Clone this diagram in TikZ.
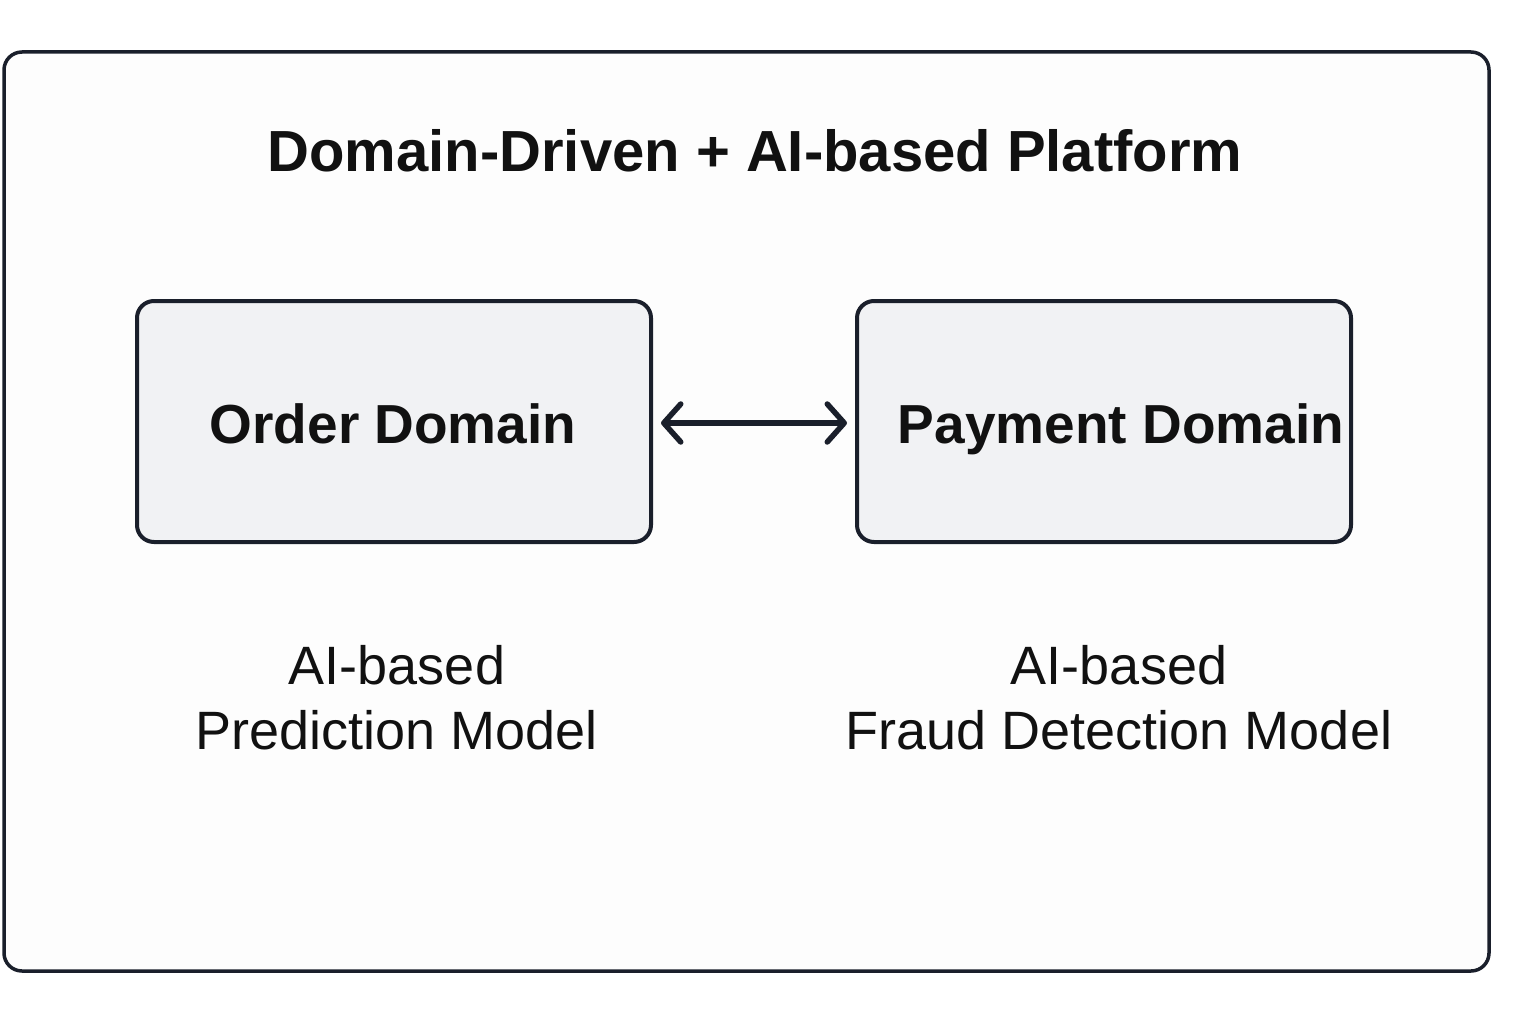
\documentclass[tikz,border=0pt]{standalone}
\usepackage{fontspec}
\setmainfont{Liberation Sans}
\usetikzlibrary{arrows.meta}
\definecolor{ink}{HTML}{1A1F2B}
\definecolor{boxfill}{HTML}{F1F2F4}
\definecolor{bg}{HTML}{FDFDFD}
\definecolor{txt}{HTML}{111111}
\tikzset{
  frame/.style={draw=ink, line width=3.5pt, rounded corners=18pt, fill=bg},
  domainbox/.style={draw=ink, line width=4pt, rounded corners=17pt, fill=boxfill},
  domainlabel/.style={font=\fontsize{55}{60}\selectfont\bfseries, text=txt, anchor=base},
  modellabel/.style={font=\fontsize{54}{65}\selectfont, text=txt, align=center},
  titlelabel/.style={font=\fontsize{58}{64}\selectfont\bfseries, text=txt},
  link/.style={draw=ink, line width=5.5pt, line cap=round, {Straight Barb[length=17pt,width=38pt,round]}-{Straight Barb[length=17pt,width=38pt,round]}}
}
\begin{document}
\begin{tikzpicture}[x=1pt,y=-1pt]
\useasboundingbox (0,0) rectangle (1536,1024);
\fill[white] (0,0) rectangle (1536,1024);
\draw[frame] (4,52) rectangle (1489,971);
\node[titlelabel] (title) at (755,151) {Domain-Driven + AI-based Platform};
\draw[domainbox] (137,301) rectangle (651,542);
\draw[domainbox] (857,301) rectangle (1351,542);
\node[domainlabel] (order) at (393,443) {Order Domain};
\node[domainlabel] (payment) at (1121,443) {Payment Domain};
\coordinate (la) at (661,423);
\coordinate (ra) at (847,423);
\draw[link] (la) -- (ra);
\node[modellabel] (pred) at (397,698) {AI-based\\Prediction Model};
\node[modellabel] (fraud) at (1119,698) {AI-based\\Fraud Detection Model};
\end{tikzpicture}
\end{document}
